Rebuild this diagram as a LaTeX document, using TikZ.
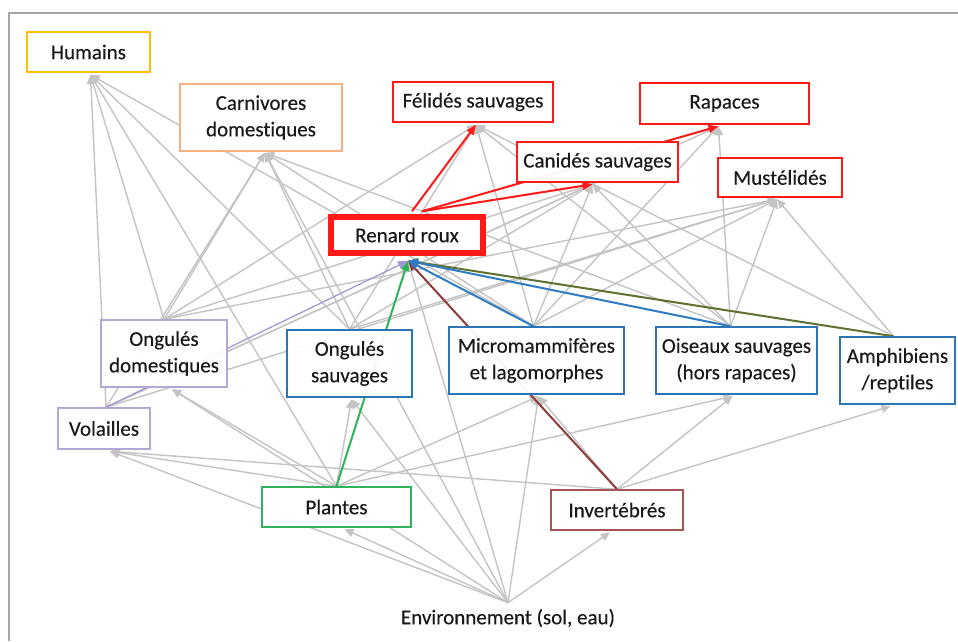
\documentclass[tikz,border=0pt]{standalone}
\usepackage{fontspec}
\setmainfont{Carlito}[Ligatures=NoCommon,FakeBold=0.3]
\usetikzlibrary{arrows.meta,backgrounds,calc}

\definecolor{txt}{HTML}{1A1A1A}
\definecolor{framec}{HTML}{A6A6A6}
\definecolor{edgegray}{HTML}{C4C4C4}
\definecolor{humc}{HTML}{FFC000}
\definecolor{carc}{HTML}{F4B183}
\definecolor{redc}{HTML}{FF1A1A}
\definecolor{purc}{HTML}{B4A7D6}
\definecolor{purl}{HTML}{A797D4}
\definecolor{bluec}{HTML}{2E75B6}
\definecolor{bluel}{HTML}{2F7CC4}
\definecolor{greenc}{HTML}{2DB35A}
\definecolor{olivec}{HTML}{5E7230}
\definecolor{brownc}{HTML}{A65454}
\definecolor{brownl}{HTML}{8E3B3B}

\begin{document}
\begin{tikzpicture}[x=1pt,y=-1pt,
  box/.style={draw, line width=1.5pt, fill=white, fill opacity=0.95, text opacity=1,
    inner sep=0pt, align=center, text=txt, font=\fontsize{21}{26.5}\selectfont},
  link/.style={draw=edgegray, line width=1.4pt, -{Triangle[length=9pt,width=8pt]}},
  hot/.style={line width=2pt, -{Triangle[length=10pt,width=8pt]}}
]
\useasboundingbox (0,0) rectangle (958,641);

% species boxes
\node[box, draw=humc, minimum width=123, minimum height=40] (hum) at (88.5,52) {Humains};
\node[box, draw=carc, minimum width=162, minimum height=67] (car) at (261,117.5) {Carnivores\\domestiques};
\node[box, draw=redc, minimum width=160, minimum height=40] (fel) at (473,102) {Félidés sauvages};
\node[box, draw=redc, minimum width=169, minimum height=41] (rap) at (724.5,103.5) {Rapaces};
\node[box, draw=redc, minimum width=161, minimum height=40] (can) at (597.5,162) {Canidés sauvages};
\node[box, draw=redc, minimum width=124, minimum height=39] (mus) at (780,177.5) {Mustélidés};
\node[box, draw=redc, line width=5.5pt, fill opacity=1, minimum width=152, minimum height=36] (ren) at (407,235) {Renard roux};
\node[box, draw=purc, minimum width=126, minimum height=67] (ongd) at (164,353.5) {Ongulés\\domestiques};
\node[box, draw=bluec, minimum width=125, minimum height=67] (ongs) at (349.5,363.5) {Ongulés\\sauvages};
\node[box, draw=bluec, minimum width=175, minimum height=67] (mic) at (536.5,360.5) {Micromammifères\\et lagomorphes};
\node[box, draw=bluec, minimum width=161, minimum height=67] (oise) at (736.5,360.5) {Oiseaux sauvages\\(hors rapaces)};
\node[box, draw=bluec, minimum width=115, minimum height=67] (amph) at (897.5,370.5) {Amphibiens\\/reptiles};
\node[box, draw=purc, minimum width=92, minimum height=41] (vol) at (104,428.5) {Volailles};
\node[box, draw=greenc, minimum width=149, minimum height=40] (pla) at (336.5,507) {Plantes};
\node[box, draw=brownc, minimum width=132, minimum height=40] (inv) at (617,510) {Invertébrés};
\node[text=txt, inner sep=0pt, font=\fontsize{21}{24}\selectfont] (env) at (508,618) {Environnement (sol, eau)};

% arrow targets under the predator boxes
\coordinate (hum-in) at ($(hum.south)+(2,2)$);
\coordinate (car-in) at ($(car.south)+(4,1)$);
\coordinate (fel-in) at ($(fel.south)+(3,2)$);
\coordinate (rap-in) at ($(rap.south)+(-6,1.5)$);
\coordinate (can-in) at ($(can.south)+(-5,1.5)$);
\coordinate (mus-in) at ($(mus.south)+(-3,1.5)$);
\coordinate (ren-in) at ($(ren.south)+(1,5)$);
\coordinate (ongd-in) at ($(ongd.south)+(8,1.5)$);
\coordinate (ongs-in) at ($(ongs.south)+(2,1.5)$);
\coordinate (mic-in) at ($(mic.south)+(2,1.5)$);
\coordinate (oise-in) at ($(oise.south)+(-4,1.5)$);
\coordinate (amph-in) at ($(amph.south)+(-7,1.5)$);
\coordinate (vol-in) at ($(vol.south)+(6,1.5)$);
\coordinate (pla-in) at ($(pla.south)+(8,1.5)$);
\coordinate (inv-in) at ($(inv.south)+(-7,1.5)$);

% starting points on top of the prey boxes
\coordinate (env-out) at ($(env.north)+(0,-6)$);
\coordinate (pla-out) at (pla.north);
\coordinate (inv-out) at (inv.north);
\coordinate (vol-out) at ($(vol.north)+(2,0)$);
\coordinate (ongd-out) at (ongd.north);
\coordinate (ongs-out) at (ongs.north);
\coordinate (mic-out) at ($(mic.north)+(-3,0)$);
\coordinate (oise-out) at ($(oise.north)+(-6,0)$);
\coordinate (amph-out) at ($(amph.north)+(-4,0)$);
\coordinate (ren-outa) at ($(ren.north)+(5,-3)$);
\coordinate (ren-outb) at ($(ren.north)+(15,-3)$);

\begin{scope}[on background layer]
  \fill[white] (0,0) rectangle (958,641);
  \draw[framec, line width=2pt] (9,641) -- (9,13) -- (958,13);

  % trophic links of the other species
  \foreach \t in {car,ren,ongd,ongs,vol,pla,mic,inv}
    \draw[link] (env-out) -- (\t-in);
  \foreach \t in {hum,vol,ongd,ongs,mic,oise}
    \draw[link] (pla-out) -- (\t-in);
  \foreach \t in {vol,mic,oise,amph}
    \draw[link] (inv-out) -- (\t-in);
  \foreach \t in {hum,car,can,rap,mus}
    \draw[link] (vol-out) -- (\t-in);
  \foreach \t in {hum,car,fel,can,mus}
    \draw[link] (ongd-out) -- (\t-in);
  \foreach \t in {hum,car,can,fel,mus}
    \draw[link] (ongs-out) -- (\t-in);
  \foreach \t in {hum,car,fel,can,rap,mus}
    \draw[link] (mic-out) -- (\t-in);
  \foreach \t in {car,fel,can,rap,mus}
    \draw[link] (oise-out) -- (\t-in);
  \foreach \t in {fel,mus}
    \draw[link] (amph-out) -- (\t-in);

  % links of the red fox
  \draw[hot, draw=purl, line width=1.3pt] (vol-out) -- (ren-in);
  \draw[hot, draw=greenc, fill=greenc] (pla-out) -- (ren-in);
  \draw[hot, draw=brownl, fill=brownl] (inv-out) -- (ren-in);
  \draw[hot, draw=olivec, fill=olivec] (amph-out) -- (ren-in);
  \draw[hot, draw=bluel, fill=bluel] (oise-out) -- (ren-in);
  \draw[hot, draw=bluel, fill=bluel] (mic-out) -- (ren-in);
  \draw[hot, draw=redc, fill=redc] (ren-outa) -- (fel-in);
  \draw[hot, draw=redc, fill=redc] (ren-outb) -- (can-in);
  \draw[hot, draw=redc, fill=redc] (ren-outb) -- (rap-in);
\end{scope}
\end{tikzpicture}
\end{document}
